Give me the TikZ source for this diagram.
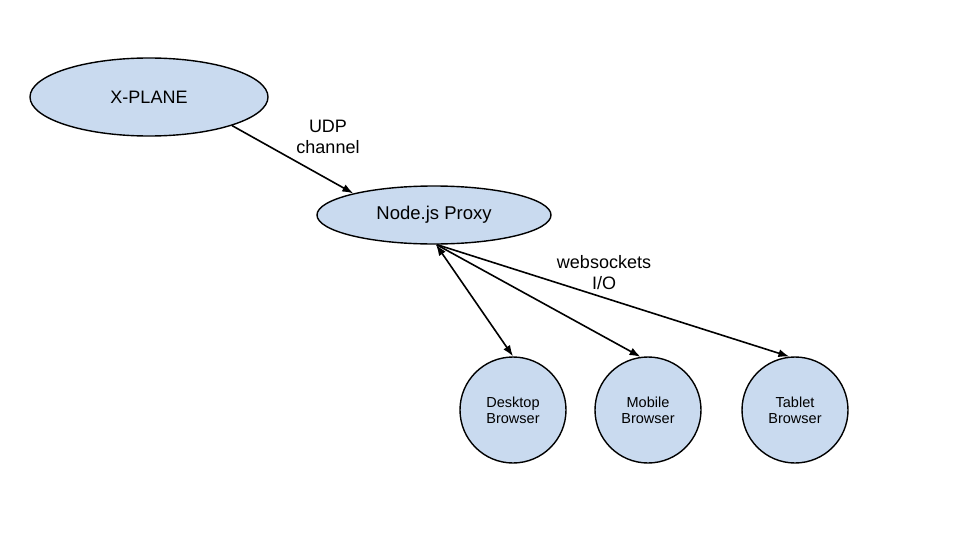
\documentclass[tikz,border=0pt]{standalone}
\usepackage{fontspec}
\setmainfont{Liberation Sans}
\usepackage{tikz}
\usetikzlibrary{
  shapes.geometric,
  positioning,
  arrows.meta
}
\definecolor{nodeblue}{RGB}{201,218,239}
\tikzset{
  >={Latex[length=11pt, width=8pt]},
  node distance=135pt,
  every node/.style={inner sep=0pt},
  host/.style={ellipse, draw, line width=1.4pt, fill=nodeblue},
  browser/.style={circle, draw, line width=1.4pt, fill=nodeblue,
    minimum size=106pt, align=center, font=\fontsize{14.5}{16}\selectfont},
  link/.style={line width=1.6pt},
  note/.style={align=center, font=\fontsize{18}{21}\selectfont}
}

\begin{document}
\begin{tikzpicture}[x=1pt, y=1pt]
    \useasboundingbox (0,0) rectangle (960,-535);
    \node[host, minimum width=238pt, minimum height=78pt,
      font=\fontsize{18}{20}\selectfont] (xp) at (149,-97) {X-PLANE};
    \node[host, minimum width=234pt, minimum height=58pt,
      font=\fontsize{18.5}{20}\selectfont] (px) at (434,-215) {Node.js Proxy};
    \node[browser] (desk) at (513,-410) {Desktop\\Browser};
    \node[browser, right of=desk] (mob) {Mobile\\Browser};
    \node[browser, right of=mob, node distance=147pt] (tab) {Tablet\\Browser};
    \draw[link, ->] (xp.-19) -- (px.165);
    \draw[link, <->] (px.-86) -- (desk.north);
    \draw[link, ->] (px.-85) -- (mob.98);
    \draw[link, ->] (px.-84) -- (tab.96);
    \node[note] (udp) at (328,-137) {UDP\\channel};
    \node[note] (ws) at (604,-273) {websockets\\I/O};
  \end{tikzpicture}
\end{document}
